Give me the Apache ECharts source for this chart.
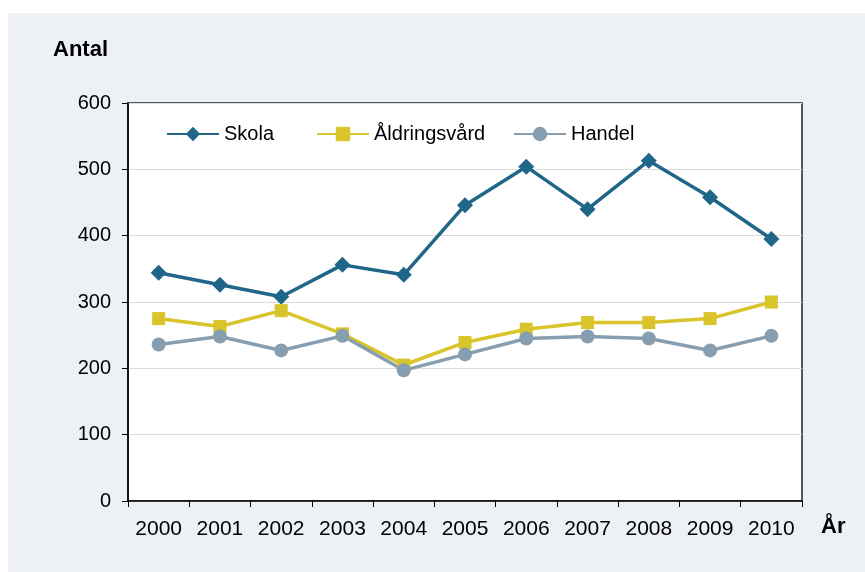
<!DOCTYPE html>
<html>
<head>
<meta charset="utf-8">
<script src="https://cdn.jsdelivr.net/npm/echarts@6/dist/echarts.min.js"></script>
<style>
  html, body { margin: 0; padding: 0; background: #fff; }
  #main { width: 865px; height: 572px; }
</style>
</head>
<body>
<div id="main"></div>
<script>
const years = ['2000', '2001', '2002', '2003', '2004', '2005', '2006', '2007', '2008', '2009', '2010'];
const skola = [344, 326, 308, 356, 341, 446, 504, 440, 513, 458, 395];
const aldringsvard = [275, 263, 287, 252, 205, 239, 259, 269, 269, 275, 300];
const handel = [236, 248, 227, 249, 197, 221, 245, 248, 245, 227, 249];
const yTicks = [0, 100, 200, 300, 400, 500, 600];

const font = 'Liberation Sans, Arial, sans-serif';
const chart = echarts.init(document.getElementById('main'));

// one legend per item so each sits where the original put it
function legendAt(name, left) {
  return {
    left: left, top: 124, padding: 0,
    itemWidth: 52, itemHeight: 18,
    textStyle: { fontSize: 20, color: '#000', fontFamily: font },
    data: [name]
  };
}

const option = {
  animation: false,
  backgroundColor: '#ffffff',
  textStyle: { fontFamily: font },
  graphic: [
    {
      type: 'rect', z: -10, silent: true,
      shape: { x: 8, y: 13, width: 857, height: 559 },
      style: { fill: '#edf0f5' }
    },
    {
      type: 'text', left: 53, top: 39,
      style: { text: 'Antal', font: 'bold 22px ' + font, fill: '#000' }
    },
    {
      type: 'text', left: 821, top: 516,
      style: { text: 'År', font: 'bold 22px ' + font, fill: '#000' }
    }
  ],
  grid: {
    left: 128, top: 103, right: 63, bottom: 71,
    show: true, backgroundColor: '#ffffff',
    borderColor: '#222', borderWidth: 1.5
  },
  legend: [
    legendAt('Skola', 166),
    legendAt('Åldringsvård', 316),
    legendAt('Handel', 513)
  ],
  xAxis: {
    type: 'category',
    data: years,
    boundaryGap: true,
    axisLine: { lineStyle: { color: '#000', width: 1.5 } },
    axisTick: { show: true, length: 6, lineStyle: { color: '#000' } },
    axisLabel: { fontSize: 21, color: '#000', margin: 18, fontFamily: font },
    splitLine: { show: false }
  },
  yAxis: {
    type: 'value',
    min: yTicks[0], max: yTicks[yTicks.length - 1], interval: 100,
    axisLine: { show: true, lineStyle: { color: '#000', width: 1.5 } },
    axisTick: { show: true, length: 6, lineStyle: { color: '#000' } },
    axisLabel: { fontSize: 20, color: '#000', margin: 17, fontFamily: font },
    splitLine: { lineStyle: { color: '#dcdcdc', width: 1 } }
  },
  series: [
    {
      name: 'Skola', type: 'line', data: skola,
      symbol: 'diamond', symbolSize: 16,
      lineStyle: { color: '#1f6688', width: 3.5 },
      itemStyle: { color: '#1f6688' }
    },
    {
      name: 'Åldringsvård', type: 'line', data: aldringsvard,
      symbol: 'rect', symbolSize: 13,
      lineStyle: { color: '#d9c42b', width: 3.5 },
      itemStyle: { color: '#d9c42b' }
    },
    {
      name: 'Handel', type: 'line', data: handel,
      symbol: 'circle', symbolSize: 14,
      lineStyle: { color: '#879eb1', width: 3.5 },
      itemStyle: { color: '#879eb1' }
    }
  ]
};

chart.setOption(option);
</script>
</body>
</html>
